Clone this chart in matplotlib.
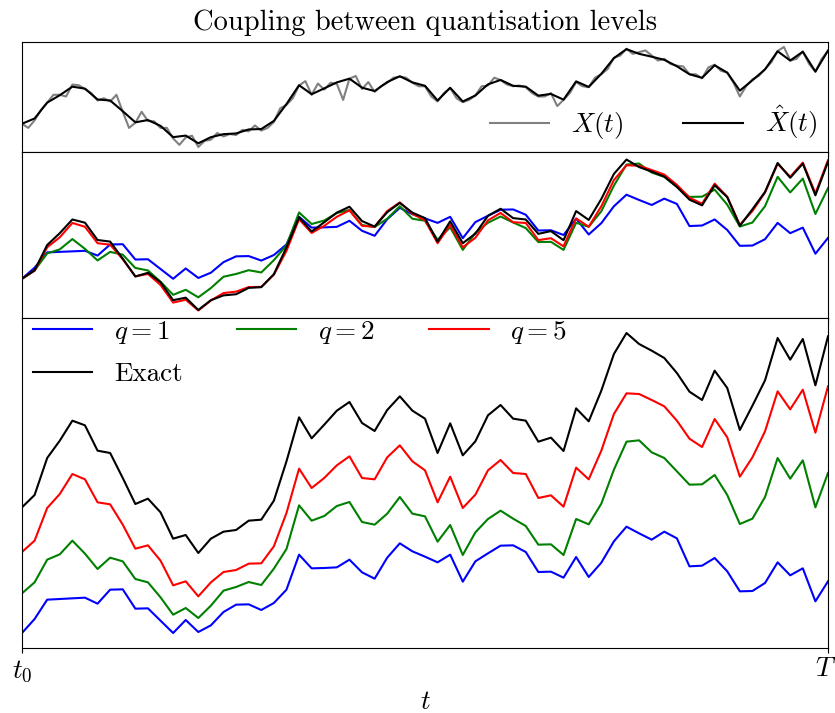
import numpy as np
import matplotlib
matplotlib.use("Agg")
import matplotlib.pyplot as plt
from matplotlib.transforms import ScaledTranslation

# ---------------- data (values as shown in the offset panel) ----------------
exact = [4.22, 4.59, 5.70, 6.22, 6.82, 6.68, 5.92, 5.85, 5.10, 4.32, 4.48, 4.07, 3.28,
         3.39, 2.85, 3.28, 3.49, 3.54, 3.82, 3.85, 4.42, 5.60, 6.92, 6.29, 6.70, 7.12,
         7.38, 6.75, 6.51, 7.14, 7.55, 7.12, 6.88, 5.85, 6.74, 5.78, 6.20, 6.98, 7.29,
         6.88, 6.82, 6.19, 6.31, 5.91, 7.19, 6.80, 7.72, 8.82, 9.45, 9.12, 8.92, 8.70,
         8.25, 7.69, 7.44, 8.32, 7.80, 6.54, 7.27, 8.03, 9.30, 8.65, 9.27, 7.88, 9.35]
q5 = [2.88, 3.22, 4.20, 4.62, 5.22, 5.06, 4.37, 4.31, 3.70, 2.98, 3.08, 2.62, 1.88,
      2.00, 1.55, 1.97, 2.28, 2.34, 2.53, 2.54, 3.05, 4.05, 5.38, 4.80, 5.10, 5.48,
      5.75, 5.10, 5.06, 5.72, 6.08, 5.60, 5.33, 4.37, 5.14, 4.20, 4.60, 5.33, 5.64,
      5.25, 5.22, 4.50, 4.58, 4.24, 5.41, 5.06, 5.92, 7.02, 7.64, 7.62, 7.44, 7.25,
      6.82, 6.28, 6.03, 6.87, 6.32, 5.14, 5.72, 6.50, 7.70, 7.16, 7.75, 6.46, 7.85]
q2 = [1.64, 1.97, 2.65, 2.81, 3.22, 2.83, 2.37, 2.71, 2.60, 2.07, 1.97, 1.52, 1.00,
      1.20, 0.90, 1.27, 1.72, 1.83, 1.98, 1.89, 2.38, 2.97, 4.28, 3.82, 3.96, 4.26,
      4.38, 3.78, 3.70, 4.03, 4.53, 4.03, 3.95, 3.19, 3.69, 2.79, 3.47, 3.87, 4.12,
      3.88, 3.66, 3.10, 3.11, 2.79, 3.87, 3.71, 4.33, 5.35, 6.19, 6.23, 5.87, 5.70,
      5.30, 4.90, 4.91, 5.19, 4.59, 3.72, 3.88, 4.53, 5.70, 5.08, 5.63, 4.22, 5.25]
q1 = [0.45, 0.87, 1.45, 1.47, 1.49, 1.51, 1.33, 1.75, 1.76, 1.18, 1.19, 0.82, 0.45,
      0.84, 0.48, 0.68, 1.08, 1.30, 1.31, 1.14, 1.35, 1.75, 2.80, 2.39, 2.40, 2.42,
      2.65, 2.27, 2.08, 2.71, 3.14, 2.90, 2.74, 2.57, 2.80, 1.99, 2.60, 2.84, 3.07,
      3.08, 2.88, 2.28, 2.29, 2.11, 2.73, 2.13, 2.56, 3.20, 3.64, 3.44, 3.25, 3.49,
      3.29, 2.45, 2.47, 2.70, 2.30, 1.70, 1.71, 1.95, 2.57, 2.18, 2.39, 1.40, 2.00]

# fine path X(t), sampled at half steps
x_fine = [4.22, 3.93, 4.46, 5.18, 5.70, 6.25, 6.25, 6.13, 6.97, 6.92, 6.66, 6.37,
          5.85, 6.01, 5.78, 6.25, 5.06, 3.93, 4.29, 5.06, 4.41, 4.39, 3.93, 3.93,
          3.19, 2.74, 3.26, 3.38, 2.59, 3.02, 3.10, 3.57, 3.33, 3.50, 3.43, 3.79,
          3.69, 4.10, 3.74, 3.93, 4.34, 5.30, 5.54, 6.01, 6.90, 7.21, 6.25, 7.04,
          6.61, 7.09, 7.02, 5.89, 7.38, 7.57, 6.66, 7.14, 6.45, 6.85, 7.09, 7.45,
          7.52, 7.45, 7.09, 6.85, 6.85, 6.13, 5.78, 6.37, 6.73, 6.01, 5.73, 5.89,
          6.21, 6.85, 6.90, 7.45, 7.28, 6.97, 6.85, 6.90, 6.78, 6.37, 6.13, 6.13,
          6.37, 5.46, 5.89, 6.37, 7.14, 6.85, 6.78, 7.45, 7.69, 8.05, 8.84, 9.00,
          9.48, 9.12, 9.24, 9.36, 9.00, 8.65, 8.77, 8.41, 8.29, 8.24, 7.69, 7.69,
          7.40, 8.17, 8.36, 7.93, 7.81, 7.09, 6.13, 6.85, 7.33, 7.57, 8.05, 8.53,
          9.32, 9.60, 8.65, 8.77, 9.29, 8.41, 7.86, 8.77, 9.32]

series_labels = ["$q = 1$", "$q = 2$", "$q = 5$", "Exact"]
series_colors = ["b", "g", "r", "k"]
coupled_gain = [0.865, 0.908, 0.956, 1.0]   # display gain of offset panel per series
tick_labels = ["$t_0$", "$T$"]

# ---------------- style ----------------
plt.rcParams.update({
    "font.family": "serif",
    "font.serif": ["cmr10"],
    "mathtext.fontset": "cm",
    "axes.unicode_minus": False,
    "axes.formatter.use_mathtext": True,
    "font.size": 19.5,
})

series = [np.array(q1), np.array(q2), np.array(q5), np.array(exact)]
n = len(exact)
t = np.arange(n)
t_fine = np.linspace(0, n - 1, len(x_fine))

fig = plt.figure(figsize=(8.35, 7.13), dpi=100)
gs = fig.add_gridspec(3, 1, height_ratios=[110, 166, 330], hspace=0,
                      left=22 / 835, right=828 / 835,
                      top=1 - 42 / 713, bottom=1 - 648 / 713)
ax1 = fig.add_subplot(gs[0])
ax2 = fig.add_subplot(gs[1], sharex=ax1)
ax3 = fig.add_subplot(gs[2], sharex=ax1)

# top panel
ax1.plot(t_fine, x_fine, color="grey", lw=1.5, label="$X(t)$")
ax1.plot(t, exact, color="k", lw=1.5, label=r"$\hat{X}(t)$")
ax1.legend(loc="lower right", ncol=2, frameon=False, borderaxespad=0,
           bbox_to_anchor=(1.0, 0.0), fontsize=19.5, handlelength=2.2,
           columnspacing=2.2)
ax1.set_title("Coupling between quantisation levels", fontsize=20.5, pad=9)

# middle panel: coupled paths from a common start
for s, g, c in zip(series, coupled_gain, series_colors):
    ax2.plot(t, (s - s[0]) / g, color=c, lw=1.5)

# bottom panel: offset paths
lines = []
for s, c, lab in zip(series, series_colors, series_labels):
    ln, = ax3.plot(t, s, color=c, lw=1.5, label=lab)
    lines.append(ln)
order = [0, 3, 1, 2]
ax3.legend([lines[i] for i in order], [series_labels[i] for i in order],
           loc="upper left", ncol=3, frameon=False, borderaxespad=0,
           bbox_to_anchor=(0, 1.03), fontsize=19.5, handlelength=2.2,
           labelspacing=0.6)

for ax in (ax1, ax2, ax3):
    ax.set_yticks([])
    ax.set_xlim(0, n - 1)
ax3.set_xticks([0, n - 1])
ax3.set_xticklabels(tick_labels)
last = ax3.get_xticklabels()[-1]
last.set_transform(last.get_transform() + ScaledTranslation(-2 / 100, 0, fig.dpi_scale_trans))
ax3.set_xlabel("$t$", labelpad=5)
plt.setp(ax1.get_xticklabels(), visible=False)
plt.setp(ax2.get_xticklabels(), visible=False)

fig.savefig("out.png", dpi=100)
